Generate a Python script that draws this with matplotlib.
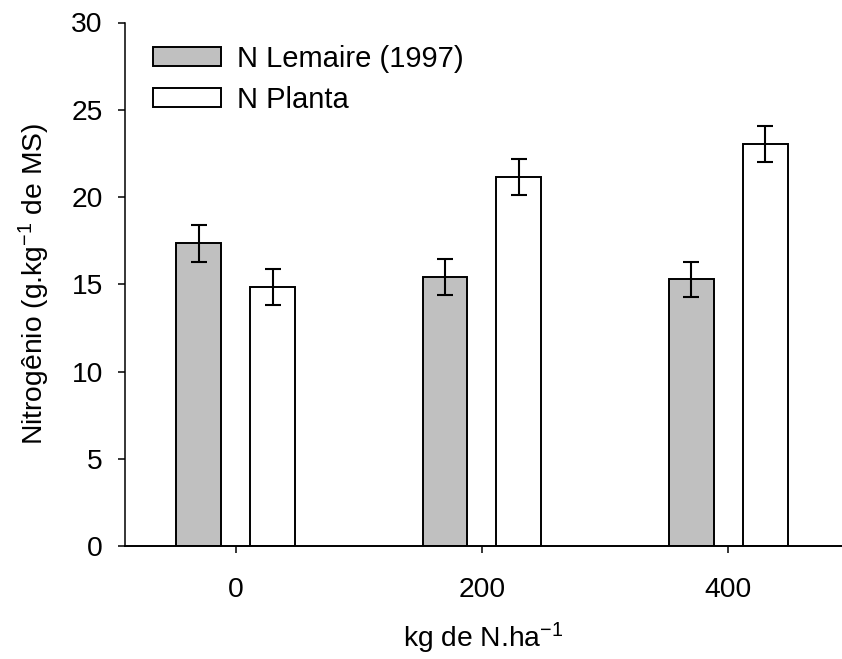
import matplotlib
matplotlib.use("Agg")
import matplotlib.pyplot as plt
import numpy as np

plt.rcParams['font.family'] = ['Liberation Sans', 'DejaVu Sans']
plt.rcParams['mathtext.default'] = 'regular'

doses = [0, 200, 400]
tick_labels = ['0', '200', '400']
lemaire = [17.35, 15.42, 15.28]
lemaire_err = [1.05, 1.02, 1.02]
planta = [14.86, 21.12, 23.04]
planta_err = [1.03, 1.03, 1.02]
series_names = ['N Lemaire (1997)', 'N Planta']

FS = 20.3

fig = plt.figure(figsize=(8.42, 6.59), dpi=100)
ax = fig.add_axes([125/842, 113/659, 1 - 125/842, (546-22.5)/659])

x = np.array(doses, dtype=float)
offset = 30
width = 36.5
ekw = dict(elinewidth=1.5, capthick=1.5, ecolor='black')
ax.bar(x - offset, lemaire, width, yerr=lemaire_err, color='#c0c0c0', edgecolor='black',
       linewidth=1.4, capsize=6, error_kw=ekw, label=series_names[0])
ax.bar(x + offset, planta, width, yerr=planta_err, color='white', edgecolor='black',
       linewidth=1.4, capsize=6, error_kw=ekw, label=series_names[1])

ax.set_xlim(-90, 492.5)
ax.set_ylim(0, 30)
ax.set_xticks(doses)
ax.set_xticklabels(tick_labels)
ax.set_yticks([0, 5, 10, 15, 20, 25, 30])
ax.spines['top'].set_visible(False)
ax.spines['right'].set_visible(False)
ax.spines['left'].set_linewidth(1.1)
ax.spines['bottom'].set_linewidth(1.4)
ax.tick_params(axis='both', labelsize=FS, direction='out', width=1.1)
ax.tick_params(axis='x', length=5, pad=17)
ax.tick_params(axis='y', length=5, pad=11)

ax.set_xlabel('kg de N.ha$^{-1}$', fontsize=FS, labelpad=13)
ax.set_ylabel('Nitrogênio (g.kg$^{-1}$ de MS)', fontsize=FS, labelpad=14)

leg = ax.legend(loc='upper left', bbox_to_anchor=(153/842, 1 - 45/659),
                bbox_transform=fig.transFigure, frameon=False, fontsize=21,
                handlelength=2.33, handleheight=0.6, handletextpad=0.54,
                labelspacing=0.43, borderpad=0, borderaxespad=0)

fig.savefig('out.png', dpi=100)
